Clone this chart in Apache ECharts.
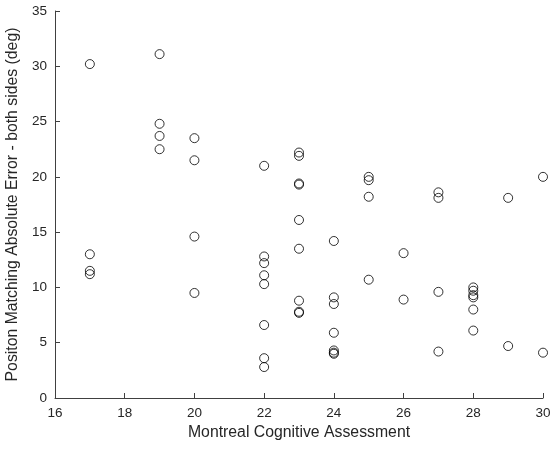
<!DOCTYPE html>
<html>
<head>
<meta charset="utf-8">
<script src="https://cdn.jsdelivr.net/npm/echarts@6/dist/echarts.min.js"></script>
<style>
  html, body { margin: 0; padding: 0; background: #fff; }
  #chart { width: 554px; height: 450px; }
</style>
</head>
<body>
<div id="chart"></div>
<script>
// MoCA score per participant and the matching position error (deg)
var mocaScores = [
  17, 17, 17, 17,
  19, 19, 19, 19,
  20, 20, 20, 20,
  22, 22, 22, 22, 22, 22, 22, 22,
  23, 23, 23, 23, 23, 23, 23, 23, 23,
  24, 24, 24, 24, 24, 24, 24,
  25, 25, 25, 25,
  26, 26,
  27, 27, 27, 27,
  28, 28, 28, 28, 28, 28,
  29, 29,
  30, 30
];
var positionErrors = [
  30.2, 13.0, 11.5, 11.2,
  31.1, 24.8, 23.7, 22.5,
  23.5, 21.5, 14.6, 9.5,
  21.0, 12.8, 12.2, 11.1, 10.3, 6.6, 3.6, 2.8,
  22.2, 21.9, 19.4, 19.3, 16.1, 13.5, 8.8, 7.8, 7.7,
  14.2, 9.1, 8.5, 5.9, 4.3, 4.0, 4.1,
  20.0, 19.7, 18.2, 10.7,
  13.1, 8.9,
  18.6, 18.1, 9.6, 4.2,
  10.0, 9.7, 9.3, 9.1, 8.0, 6.1,
  18.1, 4.7,
  20.0, 4.1
];
var xTicks = { min: 16, max: 30, step: 2 };
var yTicks = { min: 0, max: 35, step: 5 };

var points = mocaScores.map(function (m, i) { return [m, positionErrors[i]]; });

var axisColor = '#404040';
var textColor = '#262626';
var font = 'Liberation Sans, Arial, sans-serif';

var chart = echarts.init(document.getElementById('chart'), null, { renderer: 'canvas' });
chart.setOption({
  animation: false,
  backgroundColor: '#ffffff',
  grid: { left: 55, right: 11, top: 11, bottom: 52, containLabel: false, outerBoundsMode: 'none' },
  xAxis: {
    type: 'value',
    min: xTicks.min, max: xTicks.max, interval: xTicks.step,
    name: 'Montreal Cognitive Assessment',
    nameLocation: 'middle', nameGap: 27,
    nameTextStyle: { color: textColor, fontSize: 15.8, fontFamily: font },
    axisLine: { show: true, lineStyle: { color: axisColor, width: 1 } },
    axisTick: { show: true, inside: true, length: 5, lineStyle: { color: axisColor } },
    axisLabel: { color: textColor, fontSize: 13.5, fontFamily: font, margin: 8 },
    splitLine: { show: false }
  },
  yAxis: {
    type: 'value',
    min: yTicks.min, max: yTicks.max, interval: yTicks.step,
    name: 'Positon Matching Absolute Error - both sides (deg)',
    nameLocation: 'middle', nameGap: 25, nameRotate: 90,
    nameTextStyle: { color: textColor, fontSize: 15.8, fontFamily: font },
    axisLine: { show: true, lineStyle: { color: axisColor, width: 1 } },
    axisTick: { show: true, inside: true, length: 5, lineStyle: { color: axisColor } },
    axisLabel: { color: textColor, fontSize: 13.5, fontFamily: font, margin: 8 },
    splitLine: { show: false }
  },
  series: [{
    type: 'scatter',
    data: points,
    symbol: 'circle',
    symbolSize: 9,
    itemStyle: { color: 'rgba(255,255,255,0)', borderColor: '#000000', borderWidth: 1 }
  }]
});
</script>
</body>
</html>
